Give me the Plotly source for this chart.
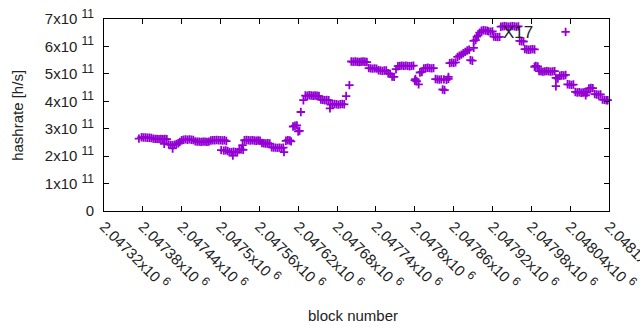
import plotly.graph_objects as go

BASE = 2047000
# block offsets from BASE and hashrate in units of 1e11 h/s
block_offset = [
    374, 378, 381, 384, 387, 390, 393, 396, 399, 402, 405, 408, 411, 414, 417,
    413, 420, 423, 426, 429, 432, 435, 426, 437,
    440, 443, 446, 449, 452, 455, 458,
    461, 464, 467, 470, 473, 476, 479, 482,
    485, 488, 491, 494, 497, 500, 503, 506, 509,
    501, 505, 508, 511, 514, 517, 520, 523, 526, 529, 532, 535, 519,
    534, 537, 540, 543, 546, 549, 552, 555, 558, 561,
    564, 567, 570, 573, 576,
    579, 582, 585, 588, 591, 594, 597,
    598, 601, 604, 607, 609, 612, 615, 618, 620, 622, 624, 628,
    631, 634, 637, 640, 643, 646, 649, 652,
    655, 658, 661, 664, 667, 669,
    670, 673, 676, 679, 682, 685, 688, 691, 694, 699,
    702, 705, 708, 711, 714, 717, 720, 723, 726,
    729, 732, 735, 738, 741,
    744, 747, 750, 753, 756,
    759, 762, 765, 768, 771,
    774, 777, 780, 783, 786, 789, 792, 795, 798,
    801, 800, 803, 806, 808, 811, 814, 817, 820, 823, 826, 829,
    832, 835, 838, 841, 845, 843, 846, 849, 852, 852,
    854, 857, 860, 863, 866, 869, 872, 875, 878, 881, 884, 891, 886, 889,
    891, 894, 896, 898, 900, 903, 906, 909, 912, 914, 917, 920,
    922, 925, 928, 931,
    933, 936, 939, 942, 945, 948, 951, 954, 957, 960,
    962, 965, 968, 970, 973, 976, 979, 982, 985,
    985, 987, 990, 992, 995, 998, 1001, 1004, 1007, 1010, 1013, 1016,
    1018, 1021, 1018, 1024, 1027, 1030, 1033, 1033,
    1036, 1039, 1042, 1045, 1048, 1051, 1054,
    1057, 1060, 1063, 1066, 1064, 1069, 1072, 1075,
    1078, 1081, 1084, 1087, 1090, 1093, 1096, 1098,
]
hashrate_e11 = [
    2.64, 2.69, 2.68, 2.68, 2.67, 2.67, 2.66, 2.64, 2.63, 2.63, 2.62, 2.63, 2.62, 2.63, 2.62,
    2.45, 2.43, 2.41, 2.40, 2.42, 2.44, 2.47, 2.28, 2.52,
    2.58, 2.60, 2.61, 2.60, 2.61, 2.60, 2.59,
    2.54, 2.53, 2.53, 2.52, 2.53, 2.53, 2.52, 2.53,
    2.57, 2.58, 2.58, 2.59, 2.58, 2.58, 2.57, 2.58, 2.55,
    2.22, 2.20, 2.21, 2.19, 2.15, 2.14, 2.16, 2.15, 2.14, 2.24, 2.25, 2.23, 2.02,
    2.40, 2.58, 2.59, 2.58, 2.57, 2.58, 2.57, 2.56, 2.57, 2.56,
    2.48, 2.47, 2.46, 2.47, 2.46,
    2.32, 2.31, 2.31, 2.30, 2.31, 2.30, 2.31,
    2.15, 2.56, 2.58, 2.57, 2.54, 3.08, 3.11, 3.12, 2.90, 2.92, 3.61, 4.04,
    4.21, 4.20, 4.22, 4.21, 4.20, 4.21, 4.20, 4.19,
    4.06, 4.05, 4.04, 4.05, 4.04, 3.74,
    3.88, 3.89, 3.90, 3.89, 3.88, 3.89, 3.90, 3.89, 4.19, 4.59,
    5.45, 5.44, 5.45, 5.44, 5.43, 5.44, 5.45, 5.44, 5.43,
    5.21, 5.20, 5.19, 5.20, 5.19,
    5.13, 5.12, 5.11, 5.12, 5.12,
    5.02, 5.00, 4.90, 4.89, 5.17,
    5.28, 5.29, 5.30, 5.29, 5.30, 5.29, 5.28, 5.29, 5.30,
    4.81, 4.76, 4.73, 4.62, 5.05, 5.07, 5.20, 5.21, 5.22, 5.21, 5.20, 5.21,
    4.81, 4.80, 4.79, 4.80, 4.80, 4.43, 4.41, 4.78, 4.82, 4.89,
    5.39, 5.41, 5.40, 5.42, 5.62, 5.66, 5.70, 5.75, 5.80, 5.85, 5.88, 5.95, 5.50, 5.48,
    6.20, 6.23, 6.36, 6.40, 6.50, 6.57, 6.59, 6.58, 6.57, 6.55, 6.54, 6.55,
    6.36, 6.35, 6.34, 6.35,
    6.72, 6.73, 6.74, 6.73, 6.72, 6.73, 6.74, 6.73, 6.72, 6.73,
    6.20, 6.19, 6.18, 5.90, 5.89, 5.88, 5.89, 5.90, 5.89,
    5.26, 5.29, 5.27, 5.10, 5.09, 5.08, 5.09, 5.10, 5.09, 5.08, 5.09, 5.10,
    4.85, 4.83, 4.55, 4.93, 4.95, 4.94, 4.96, 6.53,
    4.62, 4.61, 4.60, 4.61, 4.34, 4.32, 4.33,
    4.31, 4.32, 4.33, 4.32, 4.22, 4.47, 4.49, 4.48,
    4.26, 4.25, 4.24, 4.25, 4.06, 4.05, 4.04, 4.04,
]

x_tickvals = [2047320, 2047380, 2047440, 2047500, 2047560, 2047620, 2047680,
              2047740, 2047800, 2047860, 2047920, 2047980, 2048040, 2048100]
x_ticklabels = ["2.04732", "2.04738", "2.04744", "2.0475", "2.04756", "2.04762",
                "2.04768", "2.04774", "2.0478", "2.04786", "2.04792", "2.04798",
                "2.04804", "2.0481"]
x_exponent = "6"
y_tickvals = [0, 1e11, 2e11, 3e11, 4e11, 5e11, 6e11, 7e11]
y_ticklabels = ["0", "1", "2", "3", "4", "5", "6", "7"]
y_exponent = "11"

x_ticktext = [f"{m}x10 <sup><span style='font-size:12px'>{x_exponent}</span></sup>"
              for m in x_ticklabels]
y_ticktext = ["0"] + [f"{m}x10 <sup><span style='font-size:12px'>{y_exponent}</span></sup>"
                      for m in y_ticklabels[1:]]

blocks = [BASE + b for b in block_offset]
hashrate = [v * 1e11 for v in hashrate_e11]

COLOR = "#9400D3"
FONT = "Liberation Sans, Arial, sans-serif"

fig = go.Figure()
fig.add_trace(go.Scatter(
    x=blocks, y=hashrate, mode="markers",
    marker=dict(symbol="cross-thin", size=6, color=COLOR,
                line=dict(width=1.8, color=COLOR)),
    showlegend=False, hoverinfo="skip", cliponaxis=False,
))

axis_common = dict(
    showgrid=False, zeroline=False, showline=True, linecolor="black", linewidth=1,
    mirror="ticks", ticks="inside", ticklen=5, tickcolor="black", tickwidth=1,
    automargin=False, ticklabeloverflow="allow",
)
fig.update_xaxes(range=[2047320, 2048100], tickmode="array", tickvals=x_tickvals,
                 ticktext=x_ticktext, tickangle=45,
                 tickfont=dict(family=FONT, size=15, color="#222"), **axis_common)
fig.update_yaxes(range=[0, 7e11], tickmode="array", tickvals=y_tickvals,
                 ticktext=y_ticktext, ticklabelstandoff=6,
                 tickfont=dict(family=FONT, size=15, color="#222"), **axis_common)

fig.update_layout(
    width=640, height=330,
    margin=dict(l=104, r=31, t=19, b=119, pad=0, autoexpand=False),
    plot_bgcolor="white", paper_bgcolor="white",
    font=dict(family=FONT, size=15, color="#222"),
    annotations=[
        dict(text="block number", xref="paper", yref="paper", x=0.494, y=-0.544,
             showarrow=False, xanchor="center", yanchor="middle",
             font=dict(family=FONT, size=15, color="#222")),
        dict(text="hashrate [h/s]", xref="paper", yref="paper", x=-0.171, y=0.499,
             showarrow=False, xanchor="center", yanchor="middle", textangle=-90,
             font=dict(family=FONT, size=15, color="#222")),
        dict(text="X17", xref="x", yref="y", x=2047960, y=6.52e11,
             showarrow=False, xanchor="center", yanchor="middle",
             font=dict(family=FONT, size=17, color="#222")),
    ],
)

fig.write_html("out.html", config={"displayModeBar": False},
               post_script="document.body.style.margin='0';document.body.style.overflow='hidden';")
